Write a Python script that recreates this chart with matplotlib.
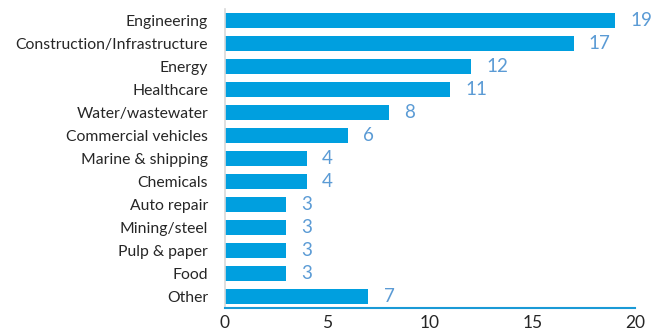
import matplotlib
matplotlib.use("Agg")
import matplotlib.pyplot as plt

categories = [
    "Engineering",
    "Construction/Infrastructure",
    "Energy",
    "Healthcare",
    "Water/wastewater",
    "Commercial vehicles",
    "Marine & shipping",
    "Chemicals",
    "Auto repair",
    "Mining/steel",
    "Pulp & paper",
    "Food",
    "Other",
]
counts = [19, 17, 12, 11, 8, 6, 4, 4, 3, 3, 3, 3, 7]
xticks = [0, 5, 10, 15, 20]

plt.rcParams["font.family"] = ["Lato", "DejaVu Sans"]

fig = plt.figure(figsize=(6.65, 3.33), dpi=100)
ax = fig.add_axes([0.338, 0.074, 0.617, 0.9])

ypos = list(range(len(categories)))
ax.barh(ypos, counts, height=0.66, color="#009fdf")

# value labels to the right of each bar
for y, v in zip(ypos, counts):
    ax.text(v + 0.75, y, str(v), va="center", ha="left",
            fontsize=13.5, color="#5b9bd5")

ax.set_yticks(ypos)
ax.set_yticklabels(categories, fontsize=11.3, color="#262626")
ax.set_ylim(len(categories) - 0.5, -0.5)
ax.set_xlim(0, 20)
ax.set_xticks(xticks)
ax.set_xticklabels([str(t) for t in xticks], fontsize=12.5, color="#262626")
ax.tick_params(length=0)
ax.tick_params(axis="x", pad=5)
ax.tick_params(axis="y", pad=12)

for s in ["top", "right"]:
    ax.spines[s].set_visible(False)
ax.spines["left"].set_color("#d9d9d9")
ax.spines["left"].set_linewidth(1.2)
ax.spines["bottom"].set_color("#1a9ad6")
ax.spines["bottom"].set_linewidth(1.5)

fig.savefig("out.png", dpi=100)
